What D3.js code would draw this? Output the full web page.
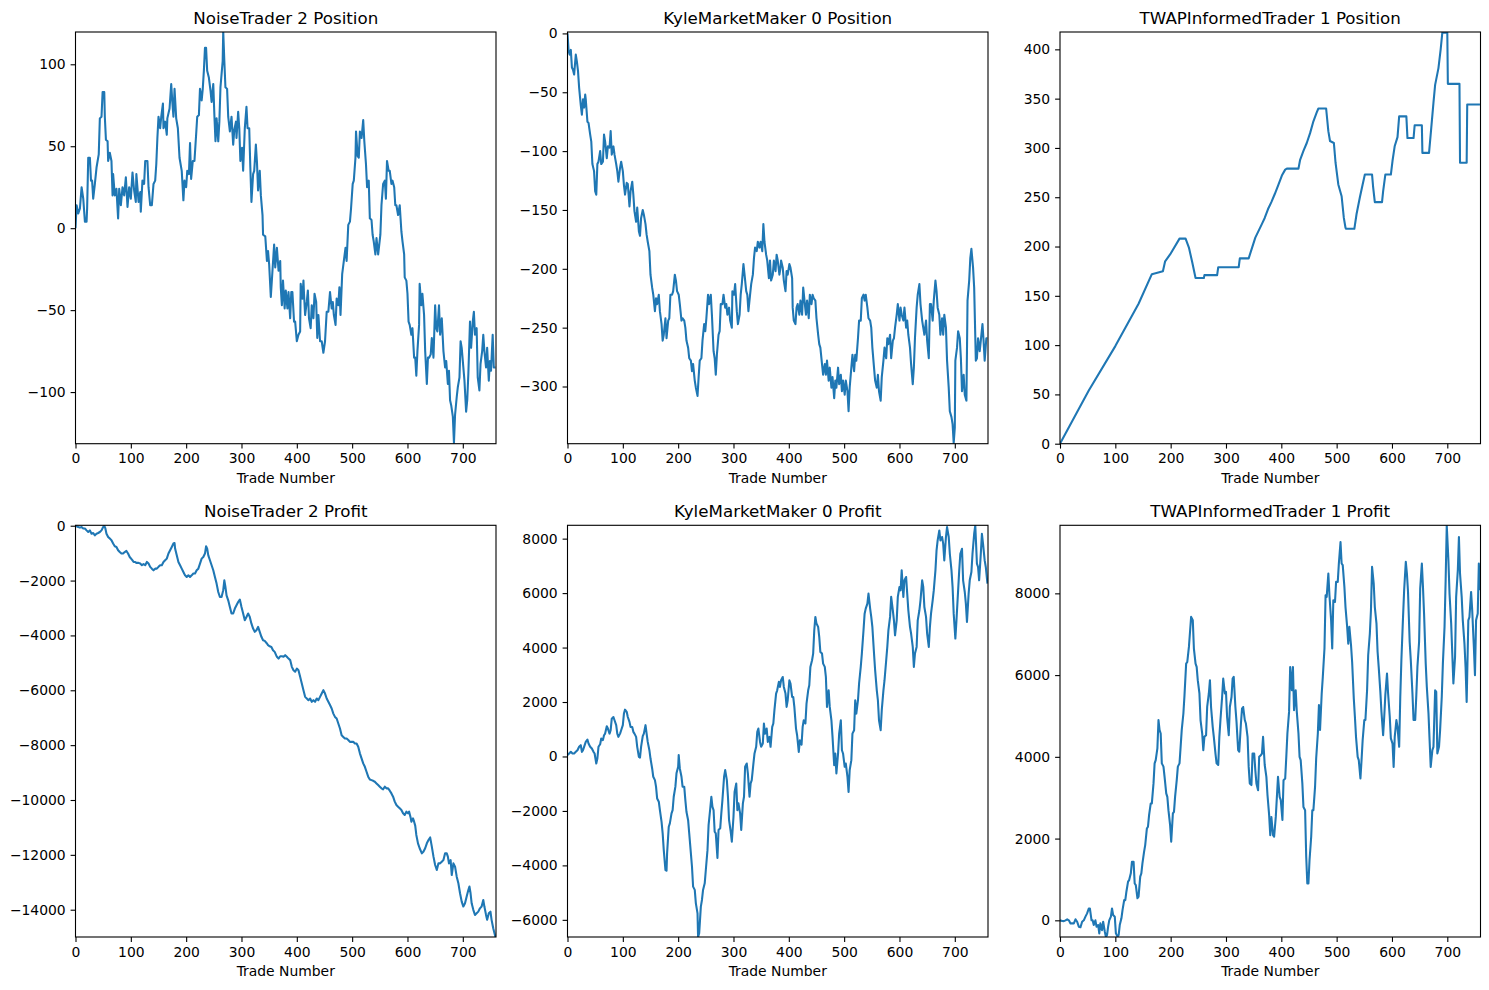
<!DOCTYPE html>
<html>
<head>
<meta charset="utf-8">
<script src="https://cdn.jsdelivr.net/npm/d3@7"></script>
<style>
  body { margin: 0; background: #fff; }
  text { font-family: "DejaVu Sans", sans-serif; }
</style>
</head>
<body>
<div id="chart"></div>
<script>
// ---- data: [trade number, value] ----
var noisePos = [[0,0],[2,14],[5,9],[8,12],[11,25],[14,18],[17,4],[20,4],[21,12],[23,43],[26,43],[28,29],[30,29],[32,18],[35,27],[38,37],[42,45],[44,67],[47,68],[49,83],[52,83],[53,68],[55,54],[58,53],[59,41],[62,46],[65,41],[67,20],[68,33],[71,20],[74,24],[77,6],[79,24],[82,14],[85,25],[88,20],[91,31],[94,13],[97,25],[100,18],[103,34],[106,23],[109,16],[110,33],[114,16],[117,22],[118,10],[121,29],[124,27],[126,41],[130,41],[132,25],[135,14],[138,14],[141,27],[144,29],[146,39],[148,55],[150,68],[153,61],[155,68],[158,76],[159,61],[162,65],[165,57],[166,67],[170,73],[173,88],[175,77],[177,68],[179,85],[182,67],[185,61],[188,43],[192,35],[195,17],[197,29],[200,25],[202,35],[205,33],[207,52],[209,30],[212,41],[215,41],[218,57],[220,68],[223,69],[225,85],[228,78],[230,85],[232,96],[234,110],[236,110],[238,96],[241,92],[244,84],[246,77],[249,88],[251,69],[253,53],[255,67],[258,53],[260,65],[262,86],[264,94],[266,102],[267,120],[269,102],[271,86],[274,85],[276,68],[279,59],[282,68],[285,51],[287,60],[290,65],[291,55],[294,71],[296,61],[298,41],[301,49],[303,35],[306,61],[309,74],[311,61],[314,61],[316,37],[318,16],[321,33],[323,35],[326,51],[328,40],[330,23],[333,35],[335,20],[338,8],[339,-4],[343,-5],[346,-20],[348,-14],[350,-22],[353,-42],[356,-26],[359,-10],[361,-24],[364,-12],[367,-26],[370,-20],[371,-36],[373,-47],[375,-32],[378,-49],[380,-38],[383,-49],[385,-39],[388,-55],[390,-39],[392,-39],[395,-57],[397,-57],[400,-69],[403,-65],[406,-63],[407,-34],[410,-43],[412,-32],[413,-40],[415,-53],[418,-45],[420,-38],[422,-55],[425,-61],[427,-47],[430,-55],[432,-40],[435,-45],[437,-67],[439,-53],[442,-69],[445,-69],[448,-76],[451,-69],[454,-51],[457,-51],[460,-39],[463,-49],[465,-45],[467,-53],[470,-59],[472,-43],[475,-47],[477,-36],[479,-53],[482,-28],[485,-20],[488,-12],[490,-20],[493,2],[496,4],[498,12],[501,27],[503,29],[506,43],[507,59],[510,44],[512,43],[514,59],[517,55],[520,66],[522,53],[525,39],[527,25],[530,29],[532,6],[535,5],[537,-4],[539,-8],[542,-16],[544,-6],[547,-16],[549,-10],[551,-4],[553,14],[556,27],[559,29],[561,18],[563,41],[566,35],[568,35],[571,27],[573,29],[576,25],[578,14],[580,14],[583,8],[586,14],[589,-2],[591,-8],[594,-16],[595,-30],[598,-32],[600,-40],[602,-57],[604,-59],[607,-65],[609,-61],[612,-79],[614,-79],[616,-90],[618,-75],[621,-59],[622,-34],[625,-47],[627,-40],[630,-53],[632,-75],[635,-95],[637,-79],[639,-79],[642,-77],[644,-67],[647,-79],[650,-47],[652,-61],[654,-63],[657,-47],[659,-65],[662,-55],[665,-75],[668,-85],[670,-81],[673,-95],[675,-87],[677,-105],[679,-108],[682,-115],[684,-131],[686,-114],[689,-103],[691,-97],[694,-91],[696,-69],[698,-73],[701,-85],[703,-93],[706,-112],[708,-105],[710,-89],[713,-57],[715,-73],[718,-57],[720,-51],[722,-65],[725,-61],[727,-91],[730,-99],[732,-83],[735,-75],[737,-65],[739,-75],[742,-85],[744,-73],[747,-93],[749,-81],[751,-87],[754,-65],[756,-85],[759,-85]];

var kylePos = [[0,0],[2,-15],[4,-18],[6,-14],[8,-29],[10,-31],[12,-35],[13,-29],[15,-18],[17,-24],[19,-32],[21,-46],[24,-61],[26,-69],[28,-56],[30,-63],[32,-52],[33,-56],[36,-75],[38,-76],[41,-86],[43,-92],[45,-111],[48,-117],[50,-134],[52,-137],[54,-111],[56,-109],[59,-100],[61,-111],[64,-109],[66,-86],[68,-92],[71,-106],[73,-96],[76,-97],[78,-83],[80,-103],[83,-96],[85,-103],[88,-111],[90,-117],[92,-126],[95,-114],[97,-109],[100,-117],[102,-129],[104,-137],[107,-127],[109,-128],[112,-147],[114,-134],[117,-126],[119,-137],[121,-151],[124,-160],[126,-148],[129,-168],[131,-172],[133,-157],[136,-150],[138,-154],[141,-162],[143,-171],[145,-177],[148,-185],[150,-205],[153,-216],[155,-222],[158,-236],[160,-225],[162,-230],[165,-222],[167,-236],[170,-247],[172,-261],[174,-256],[177,-242],[179,-259],[182,-244],[184,-242],[186,-222],[189,-222],[191,-219],[194,-205],[196,-210],[198,-219],[201,-222],[203,-230],[206,-244],[208,-242],[211,-244],[213,-250],[215,-261],[218,-267],[220,-276],[223,-278],[225,-287],[227,-281],[230,-295],[232,-301],[235,-308],[237,-292],[239,-278],[242,-276],[244,-261],[247,-247],[249,-253],[251,-242],[254,-222],[256,-230],[259,-222],[261,-239],[264,-270],[266,-276],[268,-290],[270,-273],[273,-256],[275,-253],[277,-230],[280,-230],[282,-222],[285,-233],[287,-230],[289,-239],[292,-233],[294,-244],[297,-250],[298,-219],[301,-222],[303,-213],[306,-236],[308,-247],[311,-239],[313,-222],[315,-213],[318,-196],[320,-205],[323,-219],[325,-222],[327,-236],[330,-222],[332,-213],[335,-205],[337,-191],[339,-182],[342,-185],[344,-177],[347,-182],[349,-177],[352,-185],[354,-162],[356,-177],[359,-188],[361,-193],[364,-208],[366,-193],[368,-210],[371,-205],[373,-193],[376,-202],[378,-188],[380,-193],[383,-205],[385,-199],[386,-193],[389,-199],[391,-210],[394,-219],[396,-202],[398,-205],[401,-196],[403,-199],[406,-208],[407,-233],[409,-244],[412,-247],[414,-233],[416,-230],[419,-239],[421,-227],[424,-239],[426,-216],[429,-230],[431,-239],[433,-227],[436,-242],[438,-222],[441,-230],[443,-222],[445,-225],[448,-227],[450,-242],[453,-256],[455,-264],[457,-267],[460,-281],[462,-290],[465,-281],[467,-290],[469,-278],[472,-295],[474,-284],[477,-301],[479,-292],[482,-310],[484,-295],[486,-301],[489,-284],[491,-298],[494,-290],[496,-304],[498,-295],[501,-307],[503,-295],[506,-304],[508,-321],[510,-301],[513,-284],[515,-273],[518,-287],[520,-273],[522,-278],[525,-259],[527,-244],[530,-244],[532,-225],[535,-222],[537,-227],[539,-222],[542,-233],[544,-242],[547,-244],[549,-250],[551,-267],[554,-284],[556,-295],[559,-301],[561,-290],[563,-304],[566,-312],[568,-292],[571,-278],[573,-267],[576,-276],[578,-259],[580,-264],[583,-256],[585,-276],[588,-261],[590,-259],[592,-250],[595,-239],[597,-230],[600,-244],[602,-233],[604,-239],[607,-244],[609,-233],[612,-250],[614,-244],[616,-256],[619,-267],[621,-281],[624,-298],[626,-284],[628,-259],[631,-233],[633,-222],[636,-213],[638,-230],[641,-244],[643,-250],[645,-256],[648,-244],[650,-261],[653,-276],[655,-230],[657,-230],[660,-244],[662,-227],[665,-210],[667,-219],[669,-233],[672,-239],[674,-256],[677,-242],[679,-256],[681,-239],[684,-250],[686,-278],[689,-301],[691,-321],[694,-326],[696,-332],[698,-348],[700,-335],[701,-278],[704,-267],[706,-253],[709,-259],[711,-276],[713,-304],[716,-290],[718,-307],[721,-312],[723,-227],[726,-210],[728,-191],[730,-183],[733,-199],[735,-216],[738,-278],[740,-276],[742,-259],[745,-270],[747,-261],[750,-247],[752,-261],[754,-278],[757,-259],[759,-259]];

var twapPos = [[0,0],[52,54],[100,99],[142,142],[166,172],[186,175],[190,185],[199,192],[216,208],[227,208],[233,199],[239,184],[245,168],[260,168],[261,171],[284,171],[286,179],[323,179],[325,188],[341,188],[353,209],[365,223],[370,229],[376,238],[382,245],[388,253],[395,263],[401,272],[407,278],[410,279],[431,279],[434,288],[440,297],[446,305],[452,315],[458,327],[464,336],[467,340],[481,340],[485,317],[488,307],[495,305],[498,285],[503,263],[509,251],[513,229],[516,219],[517,218],[532,218],[536,233],[542,250],[547,263],[551,273],[564,273],[566,260],[569,245],[582,245],[584,256],[588,273],[598,273],[601,287],[605,302],[610,311],[613,332],[626,332],[628,310],[639,310],[641,323],[654,323],[655,295],[667,295],[670,314],[675,346],[678,364],[684,381],[688,400],[691,417],[700,417],[701,365],[722,365],[723,285],[735,285],[736,344],[759,344]];

var noiseProfit = [[0,0],[5,-50],[8,-70],[11,-50],[14,-100],[17,-100],[20,-170],[23,-230],[26,-170],[29,-290],[32,-265],[35,-350],[38,-290],[41,-265],[44,-230],[47,-170],[50,-50],[52,0],[54,-100],[56,-290],[59,-410],[62,-470],[65,-530],[68,-650],[71,-750],[74,-775],[77,-895],[80,-960],[83,-1015],[86,-1015],[89,-960],[92,-920],[95,-1015],[98,-1140],[102,-1235],[105,-1320],[108,-1320],[110,-1355],[114,-1355],[117,-1380],[120,-1440],[123,-1400],[126,-1440],[129,-1320],[132,-1380],[135,-1500],[138,-1565],[141,-1625],[144,-1565],[147,-1565],[150,-1500],[153,-1440],[156,-1440],[159,-1320],[162,-1260],[165,-1200],[168,-1015],[171,-895],[174,-775],[177,-650],[179,-630],[180,-835],[183,-1080],[186,-1320],[189,-1440],[192,-1565],[195,-1685],[198,-1810],[201,-1870],[204,-1810],[207,-1870],[210,-1810],[213,-1745],[216,-1745],[219,-1625],[222,-1565],[225,-1380],[228,-1200],[231,-1140],[234,-1015],[236,-750],[238,-835],[240,-1080],[243,-1260],[246,-1440],[249,-1625],[252,-1870],[255,-2110],[258,-2415],[261,-2600],[264,-2600],[267,-2350],[269,-1990],[271,-2235],[273,-2540],[276,-2720],[279,-2960],[282,-3200],[285,-3200],[288,-3020],[291,-2900],[294,-2780],[297,-2690],[300,-2960],[303,-3200],[306,-3445],[309,-3325],[312,-3200],[315,-3325],[318,-3570],[321,-3750],[324,-3870],[327,-3810],[330,-3690],[333,-3870],[336,-4050],[339,-4175],[342,-4200],[346,-4295],[348,-4355],[351,-4395],[354,-4420],[357,-4540],[360,-4600],[364,-4780],[367,-4845],[370,-4760],[373,-4760],[376,-4780],[379,-4720],[382,-4780],[385,-4845],[388,-4900],[391,-5145],[394,-5270],[397,-5325],[400,-5210],[403,-5270],[406,-5510],[409,-5750],[412,-5995],[415,-6240],[418,-6300],[421,-6360],[424,-6300],[427,-6420],[430,-6360],[433,-6420],[436,-6300],[439,-6360],[442,-6240],[445,-6120],[448,-5995],[451,-6120],[454,-6300],[457,-6420],[460,-6540],[463,-6665],[466,-6850],[469,-6970],[472,-7030],[475,-7210],[478,-7395],[481,-7640],[484,-7700],[487,-7760],[490,-7760],[493,-7815],[496,-7880],[499,-7880],[502,-7880],[505,-7940],[508,-7940],[511,-8060],[514,-8300],[517,-8485],[520,-8665],[523,-8790],[526,-8970],[529,-9150],[532,-9250],[535,-9275],[538,-9300],[541,-9335],[544,-9395],[547,-9455],[550,-9515],[553,-9575],[556,-9610],[559,-9515],[562,-9575],[565,-9575],[568,-9660],[571,-9760],[574,-9880],[577,-10060],[580,-10185],[583,-10245],[586,-10305],[589,-10365],[592,-10485],[595,-10545],[598,-10425],[601,-10485],[603,-10425],[606,-10670],[607,-10790],[610,-10670],[612,-10790],[614,-10935],[616,-11275],[619,-11580],[622,-11760],[626,-11945],[629,-11880],[632,-11760],[635,-11580],[638,-11460],[641,-11365],[644,-11700],[647,-12065],[650,-12370],[653,-12550],[656,-12310],[659,-12310],[662,-12250],[665,-12190],[668,-11945],[671,-11945],[673,-12065],[675,-12310],[678,-12190],[680,-12735],[683,-12310],[686,-12430],[689,-12795],[692,-13035],[695,-13400],[698,-13705],[701,-13885],[704,-13765],[707,-13520],[710,-13280],[712,-13155],[714,-13400],[716,-13765],[719,-14005],[722,-14190],[725,-14130],[728,-14070],[731,-13950],[734,-13885],[737,-13645],[739,-13885],[742,-14190],[744,-14370],[747,-14130],[750,-14070],[752,-14370],[755,-14675],[759,-14995]];

var kyleProfit = [[0,50],[3,110],[6,170],[9,110],[12,110],[15,170],[18,230],[21,355],[24,415],[26,170],[28,230],[30,355],[33,535],[36,620],[38,475],[41,355],[44,290],[47,170],[49,110],[52,-260],[54,-75],[56,355],[59,450],[61,660],[64,600],[66,780],[68,840],[71,1110],[73,1025],[76,840],[78,965],[80,1390],[83,1450],[85,1330],[88,1150],[90,840],[92,720],[95,840],[97,965],[100,1150],[102,1575],[104,1720],[107,1640],[109,1450],[112,1270],[114,1085],[117,1085],[119,905],[121,840],[124,720],[126,355],[129,-15],[131,-40],[133,355],[136,745],[138,840],[141,1150],[143,840],[145,535],[148,230],[150,-75],[153,-440],[155,-745],[158,-870],[160,-1110],[162,-1540],[165,-1660],[167,-1970],[170,-2400],[172,-2825],[174,-3440],[177,-4170],[179,-4195],[180,-3560],[183,-2580],[185,-2460],[188,-2090],[190,-1970],[192,-1480],[195,-1110],[197,-620],[200,-380],[201,50],[203,-440],[206,-745],[208,-1110],[211,-1110],[213,-1600],[215,-2030],[218,-2340],[220,-2825],[223,-3560],[225,-4050],[227,-4780],[230,-4900],[232,-5395],[235,-5760],[236,-6630],[238,-6495],[241,-5515],[243,-5270],[245,-4900],[248,-4660],[250,-4170],[253,-3440],[255,-2520],[258,-1910],[260,-1480],[262,-1850],[264,-1970],[266,-2765],[268,-2825],[271,-3730],[273,-2700],[276,-2640],[278,-2090],[280,-1600],[283,-745],[285,-500],[288,-870],[290,-1480],[292,-2340],[295,-2765],[297,-3130],[300,-2215],[302,-1300],[305,-990],[307,-1970],[309,-1720],[312,-2090],[314,-2700],[317,-1720],[319,-1480],[321,-380],[324,-260],[326,-620],[329,-1480],[331,-990],[333,-870],[336,-260],[338,110],[341,355],[343,905],[345,1025],[348,535],[350,355],[353,475],[355,1210],[357,840],[360,1025],[362,535],[365,720],[367,355],[370,1085],[372,1210],[374,1700],[377,2310],[379,2430],[382,2740],[384,2555],[386,2800],[389,2920],[391,2555],[394,2310],[396,1820],[398,2065],[401,2800],[403,2680],[406,2185],[408,2185],[410,1820],[413,1025],[415,780],[418,170],[420,595],[423,430],[425,1085],[427,1330],[430,1210],[432,1945],[435,2430],[437,2615],[439,3290],[442,3535],[444,3780],[446,4635],[448,5125],[450,4880],[453,4760],[455,4390],[457,3840],[460,3780],[462,3410],[465,3290],[467,2920],[469,1820],[472,2430],[474,1820],[477,1330],[479,720],[482,-320],[484,110],[486,-620],[489,110],[491,840],[494,1330],[496,230],[498,110],[501,-380],[503,-260],[506,-745],[508,-1300],[510,-500],[513,-135],[515,840],[518,965],[520,2065],[522,1575],[525,2065],[527,2680],[530,3290],[532,3780],[535,4635],[537,5245],[539,5430],[542,5615],[544,5980],[547,5430],[549,5125],[551,4760],[554,3780],[556,3170],[559,2430],[561,2065],[563,1330],[566,965],[568,1700],[571,2430],[573,2800],[576,3535],[578,4025],[580,4635],[583,5125],[585,5860],[588,5370],[590,5000],[592,4450],[595,5000],[597,5860],[600,6225],[602,6100],[604,6835],[607,5860],[609,6470],[612,6590],[614,5980],[616,5370],[619,4760],[621,4515],[624,4025],[626,3290],[628,3780],[631,4025],[633,5000],[636,5370],[638,5735],[641,6470],[643,6225],[645,5490],[648,5125],[650,4515],[653,4025],[655,4760],[657,5245],[660,5735],[662,6100],[665,6835],[667,7570],[669,7935],[672,8300],[674,7935],[677,8060],[679,7815],[681,7200],[684,8060],[686,8425],[689,8060],[691,7445],[694,6835],[696,6225],[698,5245],[701,4330],[703,5000],[706,6100],[708,6835],[710,7445],[713,7630],[715,6470],[718,6040],[720,5615],[722,4940],[725,5980],[727,6470],[730,6775],[732,7445],[735,8180],[737,8490],[740,7080],[742,6960],[744,6470],[747,7445],[749,8180],[751,7815],[754,7200],[756,6960],[759,6350]];

var twapProfit = [[0,0],[4,-15],[7,-20],[10,0],[13,25],[16,0],[19,-75],[22,-75],[25,-75],[28,25],[31,-35],[34,-155],[37,-170],[40,-35],[43,0],[46,90],[49,170],[52,290],[54,290],[57,0],[59,0],[61,-115],[64,0],[66,-155],[69,-115],[71,-320],[73,-75],[76,-240],[78,-35],[81,-280],[83,-408],[85,-360],[87,-155],[89,0],[92,90],[94,290],[96,130],[99,90],[101,-320],[104,-400],[106,-360],[108,-115],[111,50],[113,250],[116,495],[118,495],[120,700],[123,945],[125,985],[128,1150],[130,1430],[133,1430],[135,900],[137,860],[140,540],[142,580],[145,1070],[147,1150],[149,1395],[152,1680],[154,1840],[157,2245],[159,2290],[161,2575],[164,2860],[166,2860],[169,3350],[171,3840],[173,3920],[176,4205],[178,4900],[180,4655],[182,4570],[184,3840],[187,3760],[189,3510],[192,3105],[194,3020],[196,2695],[199,2330],[201,1925],[204,2615],[206,2655],[208,3020],[211,3430],[213,3760],[216,3840],[218,4245],[220,4655],[223,5060],[225,5505],[228,6280],[230,6320],[233,6690],[235,7060],[237,7425],[240,7345],[242,6650],[245,6280],[247,6200],[249,5875],[252,5550],[254,4900],[257,4570],[259,4165],[261,4490],[264,4530],[266,5220],[269,5550],[271,5875],[273,5220],[276,4735],[278,4490],[281,4080],[283,3840],[286,3800],[288,4490],[290,4900],[293,5465],[295,5915],[298,5550],[300,5590],[302,4980],[305,4530],[307,5220],[310,5465],[312,5915],[314,5955],[317,5220],[319,4860],[322,4165],[324,4125],[327,4815],[329,5180],[331,5220],[334,4900],[336,4815],[339,4490],[341,3760],[343,3350],[346,3310],[348,4080],[351,4080],[353,3675],[355,3350],[358,3185],[360,4000],[363,4040],[365,4080],[367,4490],[370,3800],[373,3510],[375,3065],[378,2575],[380,2085],[382,2530],[385,2085],[387,2045],[390,2530],[392,3020],[394,3510],[397,3020],[399,2940],[402,2455],[404,3430],[407,3470],[409,4000],[411,4570],[414,5100],[416,6200],[419,5630],[421,6200],[423,5140],[426,5630],[428,5100],[431,4570],[433,4000],[435,3920],[438,3350],[440,2775],[443,2695],[445,1555],[447,900],[449,900],[451,1475],[454,2045],[456,2695],[458,2695],[461,3270],[463,3960],[466,4570],[468,5265],[470,4655],[473,5550],[475,5955],[478,6650],[480,7955],[482,7915],[485,8485],[487,7955],[490,7340],[492,6650],[494,7830],[497,7790],[499,8280],[502,8280],[504,8730],[507,9255],[509,8730],[511,8690],[514,8160],[516,7665],[519,7180],[521,6770],[523,7180],[526,6730],[528,6320],[531,5425],[533,4980],[535,4490],[538,4000],[540,3920],[543,3470],[545,3920],[547,4405],[550,4900],[552,4900],[555,5630],[557,6485],[560,7015],[562,7585],[564,8650],[567,8240],[569,7665],[572,7260],[574,6570],[576,6200],[579,5590],[581,5100],[584,4530],[586,4980],[588,5510],[591,6040],[593,5550],[596,4980],[598,4450],[601,4325],[603,3755],[605,4490],[608,4900],[610,4735],[613,4245],[615,5470],[617,6365],[620,7425],[622,8075],[625,8770],[627,8485],[629,8035],[632,6810],[634,6365],[637,5550],[639,4900],[642,4900],[644,5510],[646,6200],[649,6810],[651,8115],[654,8730],[656,8160],[658,7505],[661,6280],[663,5710],[666,5060],[668,4405],[670,3755],[673,4165],[675,4245],[678,5630],[680,5590],[682,4080],[685,4245],[687,4655],[690,5470],[692,6280],[695,7180],[697,8320],[699,9665],[702,8810],[704,7995],[707,7260],[709,6530],[711,5795],[714,6445],[716,7915],[719,8565],[721,9380],[723,8485],[726,7915],[728,7340],[731,6770],[733,6200],[735,5345],[738,7340],[740,7420],[743,8035],[745,7585],[748,6690],[750,5995],[752,7340],[755,7505],[757,8730],[759,8075]];

// titles, axis limits and tick labels
var titles = ["NoiseTrader 2 Position", "KyleMarketMaker 0 Position", "TWAPInformedTrader 1 Position",
              "NoiseTrader 2 Profit", "KyleMarketMaker 0 Profit", "TWAPInformedTrader 1 Profit"];
var xLimit = [0, 760];
var xTicks = [0, 100, 200, 300, 400, 500, 600, 700];
var yLimits = [[-131.5, 119.7], [-348.6, 1.2], [0, 417.6],
               [-14995, 15], [-6630, 8490], [-408, 9665]];
var yTicks = [
  [-100, -50, 0, 50, 100],
  [-300, -250, -200, -150, -100, -50, 0],
  [0, 50, 100, 150, 200, 250, 300, 350, 400],
  [-14000, -12000, -10000, -8000, -6000, -4000, -2000, 0],
  [-6000, -4000, -2000, 0, 2000, 4000, 6000, 8000],
  [0, 2000, 4000, 6000, 8000]
];
var series = [noisePos, kylePos, twapPos, noiseProfit, kyleProfit, twapProfit];

// layout
var svgWidth = 1489, svgHeight = 990;
var colLeft = [75.5, 567.5, 1060];
var rowTop = [32, 525.3];
var panelW = 420.5, panelH = 411.7;

var svg = d3.select("#chart")
  .append("svg")
  .attr("width", svgWidth)
  .attr("height", svgHeight);

series.forEach(function(data, i) {
  var col = i % 3, row = Math.floor(i / 3);

  var g = svg.append("g")
    .attr("transform", `translate(${colLeft[col]}, ${rowTop[row]})`);

  var x = d3.scaleLinear().domain(xLimit).range([0, panelW]);
  var y = d3.scaleLinear().domain(yLimits[i]).range([panelH, 0]);

  // clip to the axes box
  g.append("clipPath")
    .attr("id", "clip" + i)
    .append("rect")
    .attr("width", panelW)
    .attr("height", panelH);

  var line = d3.line()
    .x(d => x(d[0]))
    .y(d => y(d[1]));

  g.append("path")
    .datum(data)
    .attr("clip-path", `url(#clip${i})`)
    .attr("fill", "none")
    .attr("stroke", "#1f77b4")
    .attr("stroke-width", 2.08)
    .attr("stroke-linejoin", "round")
    .attr("d", line);

  // axes
  var xAxis = g.append("g")
    .attr("transform", `translate(0, ${panelH})`)
    .call(d3.axisBottom(x).tickValues(xTicks).tickFormat(d3.format("d"))
      .tickSize(4.9).tickPadding(4.9).tickSizeOuter(0));

  var yAxis = g.append("g")
    .call(d3.axisLeft(y).tickValues(yTicks[i]).tickFormat(d3.format("d"))
      .tickSize(4.9).tickPadding(4.9).tickSizeOuter(0));

  [xAxis, yAxis].forEach(function(a) {
    a.select(".domain").remove();
    a.selectAll("line").attr("stroke", "#000").attr("stroke-width", 1.1);
    a.selectAll("text")
      .attr("fill", "#000")
      .style("font-family", "'DejaVu Sans', sans-serif")
      .style("font-size", "13.9px");
  });

  // spines
  g.append("rect")
    .attr("width", panelW)
    .attr("height", panelH)
    .attr("fill", "none")
    .attr("stroke", "#000")
    .attr("stroke-width", 1.1);

  // title
  g.append("text")
    .attr("x", panelW / 2)
    .attr("y", -8.3)
    .attr("text-anchor", "middle")
    .style("font-size", "16.7px")
    .text(titles[i]);

  // x label
  g.append("text")
    .attr("x", panelW / 2)
    .attr("y", panelH + 39)
    .attr("text-anchor", "middle")
    .style("font-size", "13.9px")
    .text("Trade Number");
});
</script>
</body>
</html>
